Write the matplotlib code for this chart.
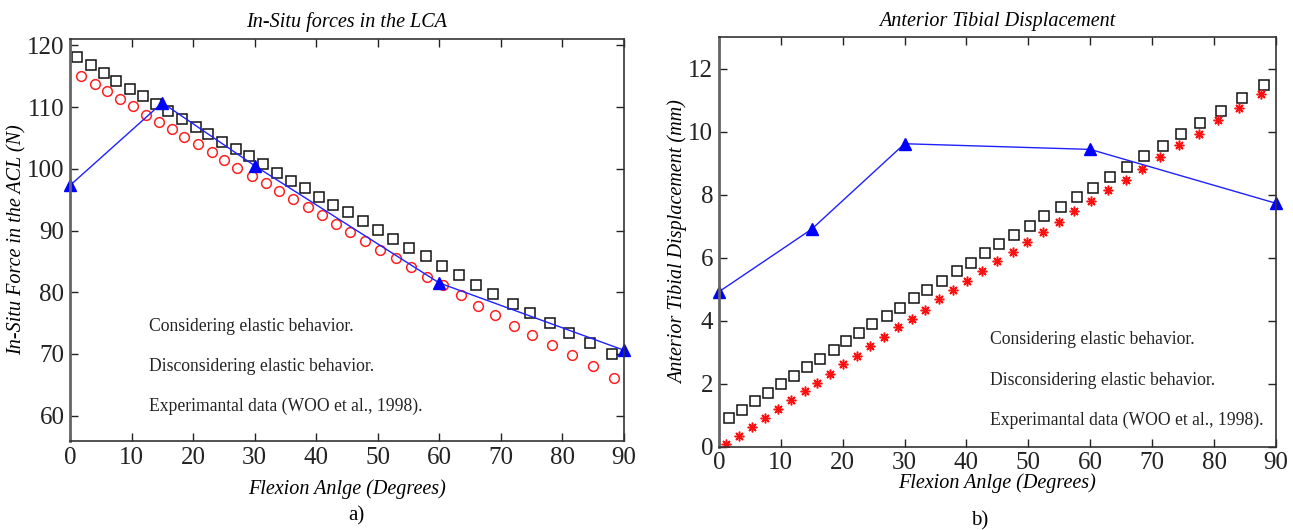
import matplotlib
matplotlib.use("Agg")
import matplotlib.pyplot as plt

plt.rcParams['font.family'] = ['Liberation Serif', 'DejaVu Serif']
plt.rcParams['mathtext.fontset'] = 'stix'

# ---- a) In-situ forces in the ACL ----
ang_sq_a = [1.2, 3.4, 5.5, 7.5, 9.7, 11.8, 13.9, 16.0, 18.2, 20.4, 22.5, 24.7, 26.9,
            29.1, 31.3, 33.6, 35.9, 38.2, 40.5, 42.8, 45.2, 47.6, 50.0, 52.5, 55.1,
            57.8, 60.4, 63.2, 66.0, 68.7, 71.9, 74.8, 77.9, 81.1, 84.5, 88.0]
force_sq = [118.1, 116.9, 115.5, 114.3, 113.0, 111.8, 110.5, 109.3, 108.1, 106.8,
            105.6, 104.4, 103.2, 102.0, 100.8, 99.3, 98.1, 96.9, 95.5, 94.2, 93.0,
            91.55, 90.15, 88.6, 87.2, 85.8, 84.3, 82.75, 81.2, 79.7, 78.1, 76.6,
            75.0, 73.4, 71.7, 70.0]

ang_ci_a = [1.8, 4.0, 6.0, 8.2, 10.2, 12.3, 14.5, 16.5, 18.6, 20.8, 23.0, 25.1, 27.2,
            29.6, 31.8, 34.0, 36.2, 38.6, 40.9, 43.2, 45.5, 47.9, 50.4, 53.0, 55.4,
            58.0, 60.6, 63.5, 66.3, 69.0, 72.1, 75.0, 78.3, 81.5, 84.9, 88.4]
force_ci = [115.0, 113.8, 112.55, 111.3, 110.1, 108.8, 107.6, 106.4, 105.15, 103.97,
            102.7, 101.5, 100.2, 98.9, 97.65, 96.4, 95.1, 93.8, 92.5, 91.1, 89.7,
            88.3, 86.9, 85.6, 84.05, 82.5, 81.1, 79.5, 77.8, 76.3, 74.6, 73.0, 71.4,
            69.75, 68.0, 66.1]

ang_exp = [0, 15, 30, 60, 90]
force_exp = [97.3, 110.7, 100.5, 81.5, 70.6]

# ---- b) Anterior tibial displacement ----
ang_sq_b = [1.7, 3.8, 5.9, 8.0, 10.1, 12.2, 14.3, 16.4, 18.6, 20.5, 22.7, 24.8, 27.2,
            29.3, 31.5, 33.7, 36.0, 38.4, 40.7, 43.0, 45.3, 47.7, 50.2, 52.6, 55.2,
            57.8, 60.5, 63.2, 66.0, 68.75, 71.7, 74.7, 77.8, 81.2, 84.5, 88.1]
disp_sq = [0.90, 1.17, 1.44, 1.70, 1.98, 2.25, 2.52, 2.79, 3.07, 3.36, 3.61, 3.89,
           4.15, 4.42, 4.72, 4.99, 5.27, 5.57, 5.84, 6.15, 6.43, 6.72, 7.02, 7.32,
           7.62, 7.93, 8.23, 8.56, 8.89, 9.22, 9.56, 9.92, 10.27, 10.67, 11.06, 11.48]

ang_st_b = [1.1, 3.2, 5.3, 7.4, 9.5, 11.7, 13.9, 15.8, 17.9, 20.1, 22.3, 24.4, 26.7,
            28.9, 31.15, 33.35, 35.6, 37.9, 40.1, 42.5, 44.9, 47.5, 49.8, 52.3, 55.0,
            57.4, 60.1, 62.9, 65.7, 68.4, 71.3, 74.4, 77.5, 80.7, 84.0, 87.6]
disp_st = [0.08, 0.35, 0.63, 0.90, 1.19, 1.47, 1.77, 2.04, 2.30, 2.62, 2.89, 3.19,
           3.49, 3.79, 4.06, 4.35, 4.68, 4.97, 5.27, 5.58, 5.89, 6.19, 6.51, 6.82,
           7.13, 7.47, 7.80, 8.14, 8.46, 8.83, 9.19, 9.58, 9.94, 10.37, 10.76, 11.21]

disp_exp = [4.92, 6.91, 9.62, 9.44, 7.73]

legend_txt = ["Considering elastic behavior.",
              "Disconsidering elastic behavior.",
              "Experimantal data (WOO et al., 1998)."]

fig = plt.figure(figsize=(12.93, 5.30), dpi=100)
ax1 = fig.add_axes([0.0541, 0.168, 0.4285, 0.758])
ax2 = fig.add_axes([0.556, 0.157, 0.4308, 0.7727])


def style_axes(ax):
    ax.tick_params(direction='in', top=True, right=True, labelsize=18,
                   length=6, width=1, colors='#222222', pad=4)
    for s in ax.spines.values():
        s.set_color('#333333')
        s.set_linewidth(1.2)
    ax.spines['left'].set_color('#666666')
    ax.spines['left'].set_linewidth(2)
    ax.set_xlim(0, 90)
    ax.set_xticks(range(0, 91, 10))


# left panel
ax1.plot(ang_sq_a, force_sq, 's', mfc='none', mec='#111111', ms=7.5, mew=1.1)
ax1.plot(ang_ci_a, force_ci, 'o', mfc='none', mec='#ff2020', ms=7, mew=1.1)
ax1.plot(ang_exp, force_exp, '-^', color='#2020ff', lw=1, ms=8, mfc='blue',
         mec='blue', clip_on=False)
style_axes(ax1)
ax1.set_ylim(55.9, 121)
ax1.set_yticks(range(60, 121, 10))
ax1.set_title('In-Situ forces in the LCA', style='italic', fontsize=14.5, pad=9)
ax1.set_xlabel('Flexion Anlge (Degrees)', style='italic', fontsize=14.5, labelpad=8)
ax1.set_ylabel('In-Situ Force in the ACL (N)', style='italic', fontsize=14.5)
ax1.yaxis.set_label_coords(-0.078, 0.5)
for txt, yv in zip(legend_txt, [74.5, 68.0, 61.5]):
    ax1.text(12.8, yv, txt, fontsize=12.7, va='center', ha='left', color='#222222')

# right panel
ax2.plot(ang_sq_b, disp_sq, 's', mfc='none', mec='#111111', ms=7.5, mew=1.1)
ax2.plot(ang_st_b, disp_st, marker=(8, 2, 0), ls='none', color='#ff1010',
         ms=7, mew=1.1)
ax2.plot(ang_exp, disp_exp, '-^', color='#2020ff', lw=1, ms=8, mfc='blue',
         mec='blue', clip_on=False)
style_axes(ax2)
ax2.set_ylim(0, 13)
ax2.set_yticks(range(0, 13, 2))
ax2.set_title('Anterior Tibial Displacement', style='italic', fontsize=14.5, pad=8)
ax2.set_xlabel('Flexion Anlge (Degrees)', style='italic', fontsize=14.5, labelpad=-1)
ax2.set_ylabel('Anterior Tibial Displacement (mm)', style='italic', fontsize=14.5)
ax2.yaxis.set_label_coords(-0.055, 0.5)
for txt, yv in zip(legend_txt, [3.39, 2.12, 0.85]):
    ax2.text(43.8, yv, txt, fontsize=12.7, va='center', ha='left', color='#222222')

fig.text(0.276, 0.027, 'a)', fontsize=15, ha='center', va='center')
fig.text(0.758, 0.018, 'b)', fontsize=15, ha='center', va='center')

fig.savefig('out.png', dpi=100)
